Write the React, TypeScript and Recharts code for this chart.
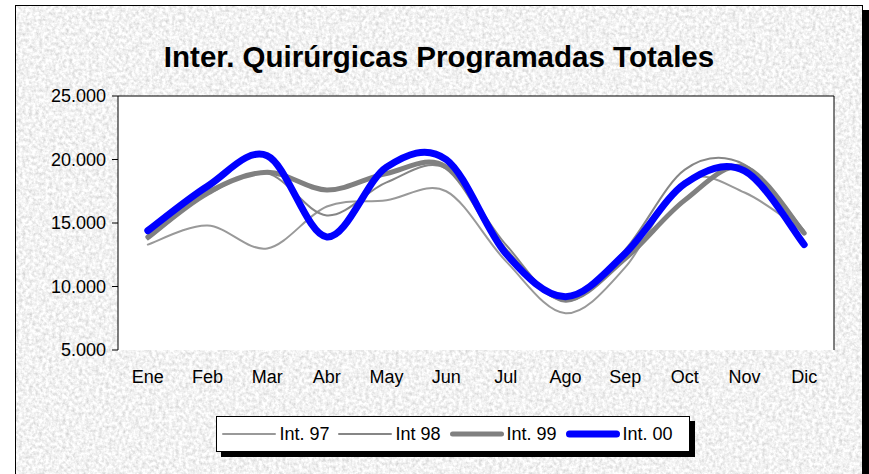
import React from 'react';
import { LineChart, Line, XAxis, YAxis, CartesianGrid, Legend } from 'recharts';

const months = ['Ene', 'Feb', 'Mar', 'Abr', 'May', 'Jun', 'Jul', 'Ago', 'Sep', 'Oct', 'Nov', 'Dic'];
const int97 = [13300, 14800, 13000, 16300, 16800, 17500, 12000, 7900, 11500, 18300, 17400, 14300];
const int98 = [13700, 17200, 18900, 15600, 18200, 19300, 13300, 8800, 12900, 19200, 19600, 14400];
const int99 = [13900, 17400, 19000, 17600, 18900, 19400, 12800, 9000, 12200, 16800, 19400, 14200];
const int00 = [14400, 17900, 20300, 13900, 19400, 20000, 12600, 9200, 12600, 18100, 19100, 13300];
const yTicks = [5000, 10000, 15000, 20000, 25000];
const boundaryTicks = [0, 1, 2, 3, 4, 5, 6, 7, 8, 9, 10, 11, 12];

const series = [
  { key: 'i97', name: 'Int. 97', color: '#999999', width: 2, values: int97 },
  { key: 'i98', name: 'Int 98', color: '#868686', width: 2, values: int98 },
  { key: 'i99', name: 'Int. 99', color: '#808080', width: 5, values: int99 },
  { key: 'i00', name: 'Int. 00', color: '#0000ff', width: 7, values: int00 },
];

const data = months.map((m, i) => {
  const row: Record<string, any> = { month: m };
  series.forEach((s) => {
    row[s.key] = s.values[i];
  });
  return row;
});

const FONT = "Arial, 'Liberation Sans', sans-serif";

// Excel-like smoothing (Catmull-Rom through the points)
const excelSmooth = (ctx: any) => {
  let pts: number[][] = [];
  return {
    areaStart() {},
    areaEnd() {},
    lineStart() {
      pts = [];
    },
    point(x: number, y: number) {
      pts.push([+x, +y]);
    },
    lineEnd() {
      const n = pts.length;
      if (!n) return;
      ctx.moveTo(pts[0][0], pts[0][1]);
      for (let i = 0; i < n - 1; i++) {
        const p0 = pts[i > 0 ? i - 1 : i];
        const p1 = pts[i];
        const p2 = pts[i + 1];
        const p3 = pts[i + 2 < n ? i + 2 : i + 1];
        ctx.bezierCurveTo(
          p1[0] + (p2[0] - p0[0]) / 6,
          p1[1] + (p2[1] - p0[1]) / 6,
          p2[0] - (p3[0] - p1[0]) / 6,
          p2[1] - (p3[1] - p1[1]) / 6,
          p2[0],
          p2[1]
        );
      }
    },
  };
};

const fmt = (v: number) => String(v).replace(/\B(?=(\d{3})+(?!\d))/g, '.');

const renderLegend = () => (
  <div
    style={{
      display: 'inline-flex',
      alignItems: 'center',
      background: '#fff',
      border: '1px solid #000',
      boxShadow: '5px 5px 0 #000',
      height: 34,
      padding: '0 8px 0 4px',
      fontFamily: FONT,
      fontSize: 18,
      color: '#000',
    }}
  >
    {series.map((s) => (
      <span key={s.key} style={{ display: 'inline-flex', alignItems: 'center', marginRight: 8 }}>
        <svg width={56} height={12} style={{ marginRight: 2 }}>
          <line x1={s.width / 2 + 1} y1={6} x2={55 - s.width / 2} y2={6} stroke={s.color} strokeWidth={s.width} strokeLinecap="round" />
        </svg>
        <span>{s.name}</span>
      </span>
    ))}
  </div>
);

export default function App() {
  return (
    <div style={{ position: 'fixed', left: 0, top: 0, width: 869, height: 474, background: '#fff', overflow: 'hidden' }}>
      <div
        style={{
          position: 'absolute',
          left: 15,
          top: 5,
          width: 846,
          height: 480,
          border: '1px solid #000',
          boxShadow: '6px 5px 0 #000',
          background: '#e2e2e2',
          overflow: 'hidden',
        }}
      >
        <svg width="100%" height="100%" style={{ position: 'absolute', left: 0, top: 0 }}>
          <filter id="noise" x="0" y="0" width="100%" height="100%">
            <feTurbulence type="fractalNoise" baseFrequency="0.3" numOctaves={4} seed={3} />
            <feColorMatrix
              type="matrix"
              values="0.6 0 0 0 0.59  0.6 0 0 0 0.59  0.6 0 0 0 0.59  0 0 0 0 1"
            />
          </filter>
          <rect width="100%" height="100%" filter="url(#noise)" />
        </svg>
      </div>
      <div
        style={{
          position: 'absolute',
          left: 0,
          top: 42,
          width: 878,
          textAlign: 'center',
          fontFamily: FONT,
          fontWeight: 'bold',
          fontSize: 29.5,
          lineHeight: '30px',
          color: '#000',
        }}
      >
        Inter. Quirúrgicas Programadas Totales
      </div>
      <div style={{ position: 'absolute', left: 0, top: 0 }}>
        <LineChart width={869} height={474} data={data} margin={{ top: 96, right: 35, left: 0, bottom: 58 }}>
          <CartesianGrid
            fill="#ffffff"
            stroke="#000"
            strokeWidth={1}
            horizontalCoordinatesGenerator={({ offset }: any) => [offset.top]}
            verticalCoordinatesGenerator={({ offset }: any) => [offset.left + offset.width]}
          />
          <XAxis
            xAxisId="b"
            type="number"
            domain={[0, 12]}
            ticks={boundaryTicks}
            tick={false}
            tickSize={6}
            height={0}
            axisLine={{ stroke: '#000' }}
            tickLine={{ stroke: '#000' }}
          />
          <XAxis
            xAxisId="c"
            dataKey="month"
            scale="band"
            height={30}
            tickLine={false}
            axisLine={false}
            tickMargin={14}
            interval={0}
            tick={{ fill: '#000', fontFamily: FONT, fontSize: 18 }}
          />
          <YAxis
            domain={[5000, 25000]}
            ticks={yTicks}
            width={118}
            tickFormatter={fmt}
            tickSize={6}
            tickMargin={6}
            interval={0}
            allowDataOverflow
            axisLine={{ stroke: '#000' }}
            tickLine={{ stroke: '#000' }}
            tick={{ fill: '#000', fontFamily: FONT, fontSize: 18 }}
          />
          <Legend
            verticalAlign="bottom"
            align="center"
            content={renderLegend}
            wrapperStyle={{ left: 0, width: 906, height: 36, bottom: 22, textAlign: 'center' }}
          />
          {series.map((s) => (
            <Line
              key={s.key}
              xAxisId="c"
              dataKey={s.key}
              name={s.name}
              type={excelSmooth as any}
              stroke={s.color}
              strokeWidth={s.width}
              strokeLinecap="round"
              strokeLinejoin="round"
              dot={false}
              activeDot={false}
              isAnimationActive={false}
            />
          ))}
        </LineChart>
      </div>
    </div>
  );
}
